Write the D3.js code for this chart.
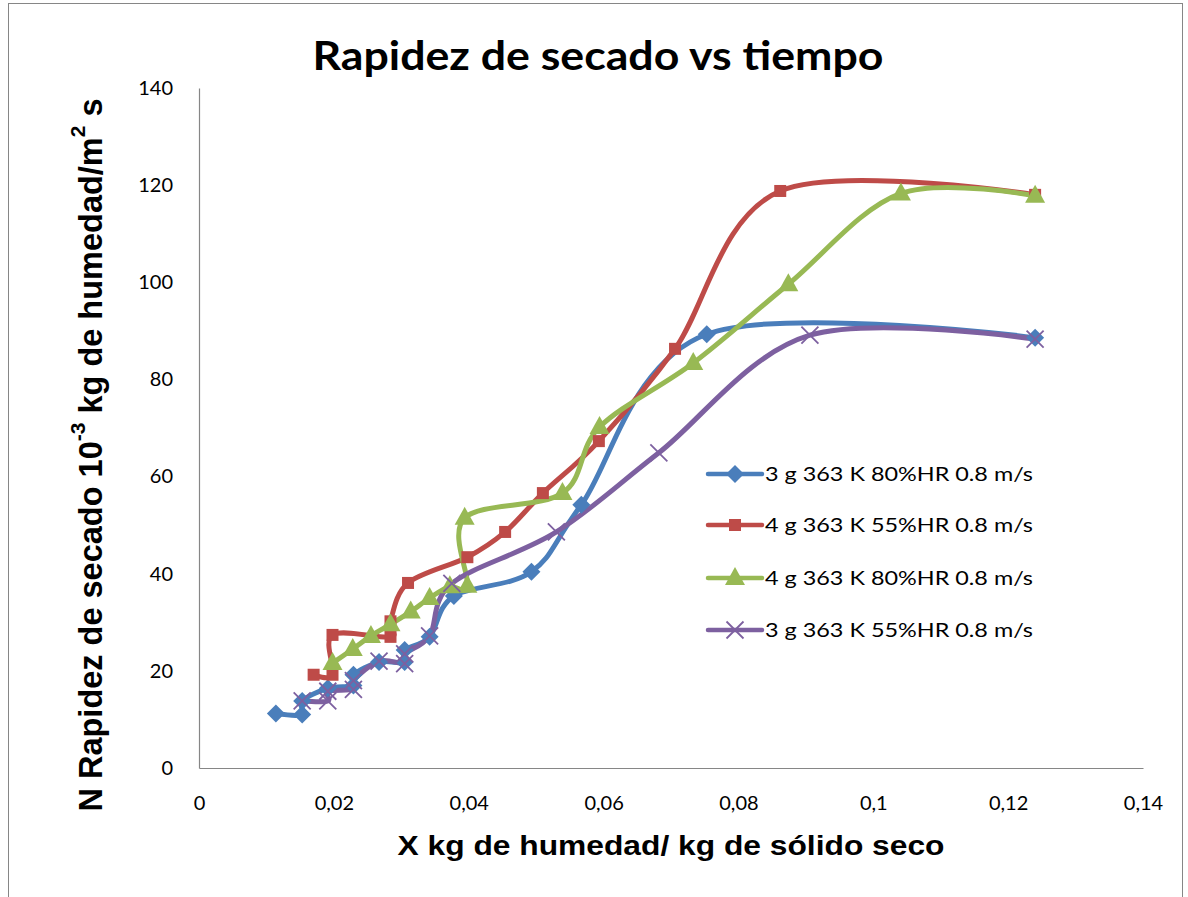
<!DOCTYPE html>
<html>
<head>
<meta charset="utf-8">
<script src="https://cdn.jsdelivr.net/npm/d3@7"></script>
<style>
  body { margin: 0; background: #fff; }
  text { fill: #000; }
</style>
</head>
<body>
<div id="chart"></div>
<script>
'use strict';

// series data, X (kg humedad / kg solido seco) vs N (10^-3 kg/m2 s), in time order
const seriesNames = [
  '3 g 363 K 80%HR 0.8 m/s',
  '4 g 363 K 55%HR 0.8 m/s',
  '4 g 363 K 80%HR 0.8 m/s',
  '3 g 363 K 55%HR 0.8 m/s'
]
const blueX = [0.1240, 0.0753, 0.0567, 0.0493, 0.0378, 0.0342, 0.0305, 0.0305, 0.0267, 0.0229, 0.0229, 0.0191, 0.0153, 0.0153, 0.0114]
const blueY = [88.6, 89.3, 54.2, 40.4, 35.4, 27.0, 24.3, 21.8, 21.8, 19.2, 17.0, 16.4, 13.8, 11.0, 11.2]
const redX = [0.1240, 0.0862, 0.0706, 0.0593, 0.0510, 0.0454, 0.0398, 0.0310, 0.0284, 0.0284, 0.0198, 0.0198, 0.0170]
const redY = [118.0, 118.8, 86.3, 67.3, 56.6, 48.6, 43.4, 38.1, 30.2, 27.0, 27.4, 19.2, 19.2]
const greenX = [0.1240, 0.1041, 0.0874, 0.0733, 0.0594, 0.0539, 0.0394, 0.0398, 0.0372, 0.0342, 0.0314, 0.0284, 0.0255, 0.0228, 0.0198]
const greenY = [117.8, 118.3, 99.6, 83.4, 70.2, 56.6, 51.5, 37.5, 37.4, 35.0, 32.2, 29.6, 27.2, 24.5, 21.6]
const purpleX = [0.1240, 0.0906, 0.0682, 0.0530, 0.0375, 0.0342, 0.0305, 0.0305, 0.0267, 0.0229, 0.0229, 0.0191, 0.0191, 0.0153]
const purpleY = [88.3, 89.1, 64.9, 48.6, 38.0, 27.2, 23.5, 21.5, 22.0, 18.0, 16.2, 15.8, 13.8, 13.8]

const xTicks = [0, 0.02, 0.04, 0.06, 0.08, 0.1, 0.12, 0.14]
const yTicks = [0, 20, 40, 60, 80, 100, 120, 140]

const colors = ['#4a7ebb', '#be4b48', '#98b954', '#7d60a0']
const shapes = ['diamond', 'square', 'triangle', 'cross']

const series = [
  d3.zip(blueX, blueY),
  d3.zip(redX, redY),
  d3.zip(greenX, greenY),
  d3.zip(purpleX, purpleY)
]

var width = 1188, height = 897

var svg = d3.select('#chart').append('svg')
    .attr('width', width)
    .attr('height', height)

// outer chart border
svg.append('rect')
    .attr('x', 8.5).attr('y', 3.5)
    .attr('width', 1174).attr('height', 900)
    .attr('fill', 'none')
    .attr('stroke', '#868686')
    .attr('stroke-width', 1)

var x = d3.scaleLinear().domain([0, 0.14]).range([199, 1143])
var y = d3.scaleLinear().domain([0, 140]).range([768, 88])

// axes, no tick marks
var fmt = d => d3.format('')(d).replace('.', ',')

svg.append('g')
    .attr('transform', 'translate(0,768)')
    .call(d3.axisBottom(x).tickValues(xTicks).tickSize(0).tickPadding(28).tickFormat(fmt))
svg.append('g')
    .attr('transform', 'translate(199,0)')
    .call(d3.axisLeft(y).tickValues(yTicks).tickSize(0).tickPadding(26))

svg.selectAll('.domain').attr('stroke', '#868686').attr('stroke-width', 1.2)
svg.selectAll('.tick text')
    .attr('font-family', 'Lato, "Open Sans", sans-serif')
    .attr('font-size', 20)
    .attr('fill', '#000')

// smoothed lines like the spreadsheet's "smooth line" option
var line = d3.line()
    .x(d => x(d[0]))
    .y(d => y(d[1]))
    .curve(d3.curveCardinal.tension(0))

var plot = svg.append('g')

plot.selectAll('path.series')
    .data(series)
    .enter().append('path')
    .attr('class', 'series')
    .attr('d', line)
    .attr('fill', 'none')
    .attr('stroke', (d, i) => colors[i])
    .attr('stroke-width', 5)
    .attr('stroke-linejoin', 'round')
    .attr('stroke-linecap', 'round')

function marker(g, shape, color) {
  if (shape === 'diamond') {
    g.append('path').attr('d', 'M0,-9L9,0L0,9L-9,0Z').attr('fill', color)
  } else if (shape === 'square') {
    g.append('rect').attr('x', -6).attr('y', -6).attr('width', 12).attr('height', 12).attr('fill', color)
  } else if (shape === 'triangle') {
    g.append('path').attr('d', 'M0,-11L10,7L-10,7Z').attr('fill', color)
  } else {
    g.append('path').attr('d', 'M-8.5,-8.5L8.5,8.5M-8.5,8.5L8.5,-8.5')
        .attr('stroke', color).attr('stroke-width', 1.8).attr('fill', 'none')
  }
}

series.forEach(function(s, i) {
  plot.append('g').selectAll('g')
      .data(s)
      .enter().append('g')
      .attr('transform', d => 'translate(' + x(d[0]) + ',' + y(d[1]) + ')')
      .each(function() { marker(d3.select(this), shapes[i], colors[i]) })
})

// legend
var legendY = [474, 525, 578, 630]
var legend = svg.append('g')
seriesNames.forEach(function(name, i) {
  var g = legend.append('g').attr('transform', 'translate(0,' + legendY[i] + ')')
  g.append('line')
      .attr('x1', 708).attr('x2', 762)
      .attr('stroke', colors[i]).attr('stroke-width', 4.5)
      .attr('stroke-linecap', 'round')
  marker(g.append('g').attr('transform', 'translate(735,0)'), shapes[i], colors[i])
  g.append('text')
      .attr('x', 765).attr('y', 7)
      .attr('font-family', 'Lato, "Open Sans", sans-serif')
      .attr('font-size', 20)
      .attr('textLength', 268)
      .attr('lengthAdjust', 'spacingAndGlyphs')
      .text(name)
})

// titles
svg.append('text')
    .attr('x', 598).attr('y', 70)
    .attr('text-anchor', 'middle')
    .attr('font-family', 'Lato, "Open Sans", sans-serif')
    .attr('font-weight', 'bold')
    .attr('font-size', 40)
    .attr('textLength', 571)
    .attr('lengthAdjust', 'spacingAndGlyphs')
    .text('Rapidez de secado vs tiempo')

svg.append('text')
    .attr('x', 671).attr('y', 855)
    .attr('text-anchor', 'middle')
    .attr('font-family', '"Liberation Sans", Arial, sans-serif')
    .attr('font-weight', 'bold')
    .attr('font-size', 27)
    .attr('textLength', 547)
    .attr('lengthAdjust', 'spacingAndGlyphs')
    .text('X kg de humedad/ kg de sólido seco')

var yTitle = svg.append('text')
    .attr('transform', 'translate(102,455) rotate(-90)')
    .attr('text-anchor', 'middle')
    .attr('font-family', '"Liberation Sans", Arial, sans-serif')
    .attr('font-weight', 'bold')
    .attr('font-size', 32.5)

yTitle.append('tspan').text('N Rapidez de secado 10')
yTitle.append('tspan').attr('dy', -17).attr('font-size', 21).text('-3')
yTitle.append('tspan').attr('dy', 17).text(' kg de humedad/m')
yTitle.append('tspan').attr('dy', -17).attr('font-size', 21).text('2')
yTitle.append('tspan').attr('dy', 17).text(' s')
</script>
</body>
</html>
